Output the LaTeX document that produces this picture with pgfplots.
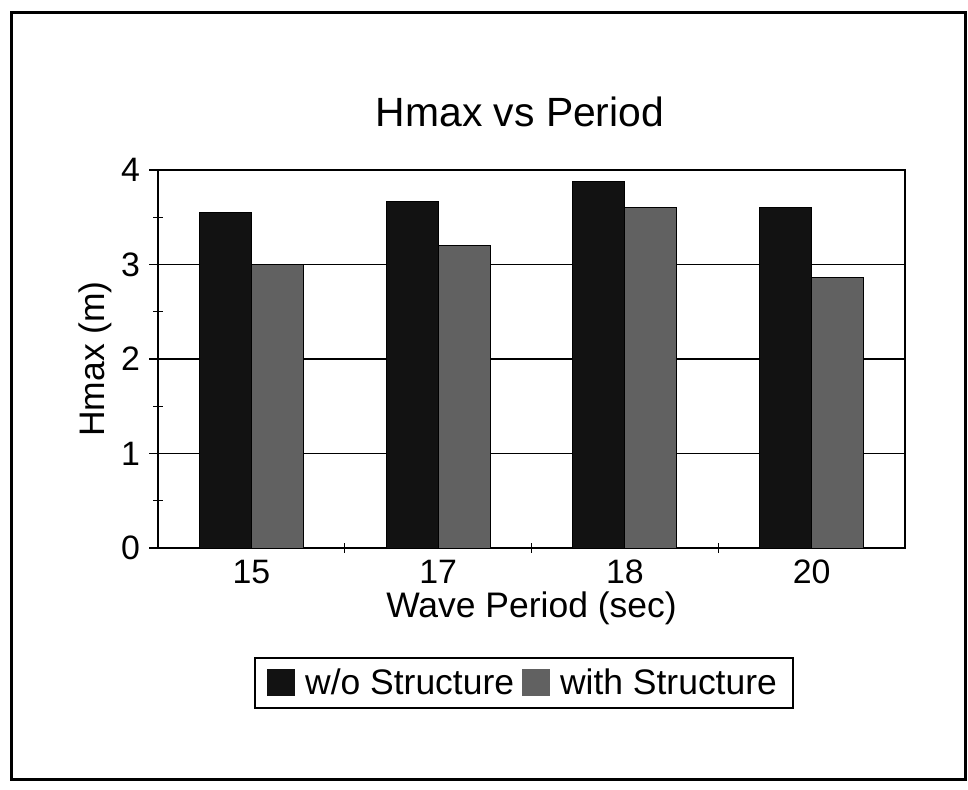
\documentclass[border=0pt]{standalone}
\usepackage{pgfplots}
\pgfplotsset{compat=1.18}
\usepackage{fontspec}
\setmainfont{Liberation Sans}
\definecolor{darkbar}{gray}{0.07}
\definecolor{midbar}{gray}{0.38}
\begin{document}
\begin{tikzpicture}
\useasboundingbox (0,0) rectangle (484bp,395bp);
\draw[line width=1.5bp] (5.5bp,5bp) rectangle (482.5bp,388.5bp);
\node[font=\fontsize{20.5}{24}\selectfont] at (260bp,339bp) {Hmax vs Period};
\begin{axis}[
  at={(79bp,121bp)}, anchor=south west,
  width=373.5bp, height=189bp, scale only axis,
  ybar=0pt, bar width=26bp,
  xmin=-0.5, xmax=3.5, ymin=0, ymax=4,
  xtick={0,1,2,3}, xticklabels={15,17,18,20},
  major x tick style={draw=none},
  minor xtick={0.5,1.5,2.5},
  ytick={0,1,2,3,4}, minor ytick={0.5,1.5,2.5,3.5},
  xtick pos=bottom, ytick pos=left,
  ymajorgrids, grid style={black, line width=0.6bp},
  tick align=center, major tick length=9bp, minor tick length=5bp,
  tick style={black, line width=0.6bp},
  axis line style={line width=0.75bp},
  /pgf/number format/assume math mode=true,
  tick label style={font=\fontsize{17}{20}\selectfont},
  xticklabel style={yshift=2bp},
  yticklabel style={xshift=-1bp},
  xlabel={Wave Period (sec)}, ylabel={Hmax (m)},
  label style={font=\fontsize{17.8}{21}\selectfont},
  xlabel style={at={(axis description cs:0.5,0)}, anchor=center, yshift=-30bp},
  ylabel style={at={(axis description cs:0,0.5)}, anchor=center, yshift=31.5bp},
  legend columns=2,
  legend style={at={(0.49,-0.357)}, anchor=center, draw=black, line width=1bp,
    font=\fontsize{17.8}{21}\selectfont, inner xsep=6bp, inner ysep=3.5bp,
    /tikz/every odd column/.append style={column sep=3bp},
    /tikz/every even column/.append style={column sep=2bp}},
  legend image code/.code={\fill[#1, draw=none] (0bp,-6.5bp) rectangle (14bp,7bp);},
]
\addplot[draw=black, fill=darkbar] coordinates {(0,3.55) (1,3.67) (2,3.88) (3,3.60)};
\addplot[draw=black, fill=midbar] coordinates {(0,3.00) (1,3.20) (2,3.60) (3,2.86)};
\legend{w/o Structure, with Structure}
\end{axis}
\end{tikzpicture}
\end{document}
